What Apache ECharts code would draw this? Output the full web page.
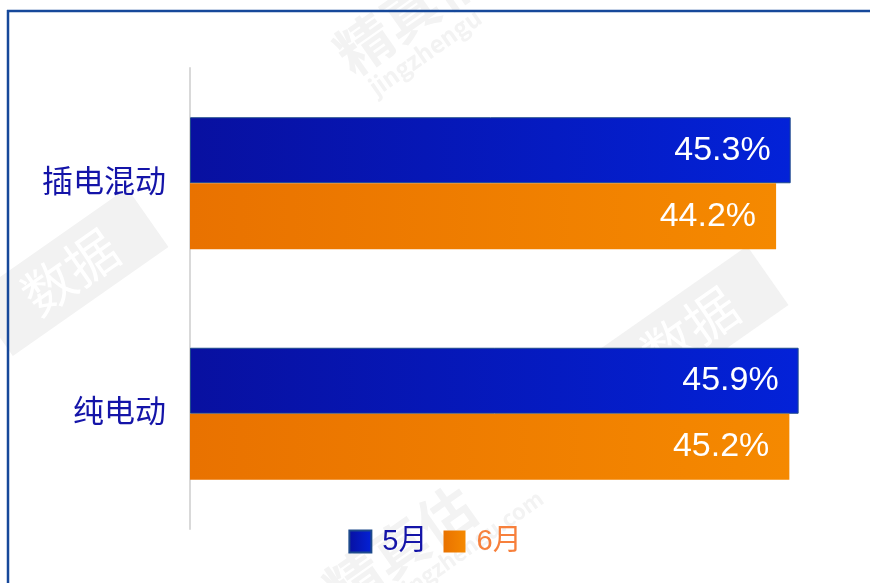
<!DOCTYPE html>
<html>
<head>
<meta charset="utf-8">
<script src="https://cdn.jsdelivr.net/npm/echarts@6/dist/echarts.min.js"></script>
<style>
  html, body { margin: 0; padding: 0; background: #fff; overflow: hidden; }
  #chartBox { width: 870px; height: 583px; }
</style>
</head>
<body>
<div id="chartBox"></div>
<script>
  // 数据
  var categories = ['插电混动', '纯电动'];
  var seriesNames = ['5月', '6月'];
  var may = [45.3, 45.9];
  var june = [44.2, 45.2];

  var fontCN = '"Liberation Sans", Arial, "Noto Sans CJK SC", sans-serif';
  var pi = Math.PI;

  // 水印
  function markBox(x, y, w, h, txt, size) {
    return {
      type: 'group', x: x, y: y, rotation: pi * 35 / 180, silent: true,
      children: [
        { type: 'rect', shape: { x: -w / 2, y: -h / 2, width: w, height: h }, style: { fill: '#f2f2f2' } },
        { type: 'text', style: { text: txt, x: 0, y: 0, fill: '#ffffff', font: size + 'px "Noto Sans CJK SC"', align: 'center', verticalAlign: 'middle' } }
      ]
    };
  }
  function markText(x, y, txt, size) {
    return {
      type: 'text', x: x, y: y, rotation: pi * 35 / 180, silent: true,
      style: { text: txt, fill: '#f3f3f3', font: 'bold ' + size + 'px "Noto Sans CJK SC"', align: 'center', verticalAlign: 'middle' }
    };
  }

  var myChart = echarts.init(document.getElementById('chartBox'));
  myChart.setOption({
    animation: false,
    backgroundColor: '#fff',
    graphic: [
      markBox(70, 272, 190, 72, '数据', 52),
      markBox(690, 330, 190, 72, '数据', 52),
      markText(410, 12, '精真估', 56),
      markText(425, 52, 'jingzhengu', 24),
      markText(400, 548, '精真估', 56),
      markText(470, 545, 'jingzhengu.com', 22),
      // 外框（左、上）
      { type: 'line', silent: true, z: 100, shape: { x1: 8, y1: 10, x2: 8, y2: 583 }, style: { stroke: '#16489a', lineWidth: 2.5 } },
      { type: 'line', silent: true, z: 100, shape: { x1: 7, y1: 11, x2: 870, y2: 11 }, style: { stroke: '#16489a', lineWidth: 2.5 } }
    ],
    legend: {
      data: [
        { name: '5月', textStyle: { color: '#1414a8' } },
        { name: '6月', textStyle: { color: '#f7803c' } }
      ],
      left: 'center',
      top: 522,
      itemWidth: 22,
      itemHeight: 22,
      itemGap: 16,
      icon: 'rect',
      textStyle: { fontSize: 29, fontFamily: fontCN, padding: [0, 0, 0, 6] }
    },
    grid: { left: 190, right: 17, top: 68, bottom: 54 },
    xAxis: {
      type: 'value',
      min: 0,
      max: 50,
      show: false,
      splitLine: { show: false }
    },
    yAxis: {
      type: 'category',
      inverse: true,
      data: categories,
      axisTick: { show: false },
      axisLine: { lineStyle: { color: '#d9d9d9', width: 2 } },
      axisLabel: { color: '#1414a8', fontSize: 31, fontFamily: fontCN, margin: 24 }
    },
    series: [{
      name: seriesNames[0],
      type: 'bar',
      barWidth: 66,
      barGap: '0%',
      data: may,
      itemStyle: {
        color: new echarts.graphic.LinearGradient(0, 0, 1, 0, [
          { offset: 0, color: '#0810a0' },
          { offset: 1, color: '#0322d8' }
        ]),
        borderColor: '#1e4a8c',
        borderWidth: 1
      },
      label: {
        show: true, position: 'insideRight', distance: 20,
        color: '#fff', fontSize: 34, fontFamily: fontCN,
        formatter: function (p) { return p.value.toFixed(1) + '%'; }
      }
    }, {
      name: seriesNames[1],
      type: 'bar',
      barWidth: 66,
      barGap: '0%',
      data: june,
      itemStyle: {
        color: new echarts.graphic.LinearGradient(0, 0, 1, 0, [
          { offset: 0, color: '#e97200' },
          { offset: 1, color: '#f58900' }
        ])
      },
      label: {
        show: true, position: 'insideRight', distance: 20,
        color: '#fff', fontSize: 34, fontFamily: fontCN,
        formatter: function (p) { return p.value.toFixed(1) + '%'; }
      }
    }]
  });
</script>
</body>
</html>
